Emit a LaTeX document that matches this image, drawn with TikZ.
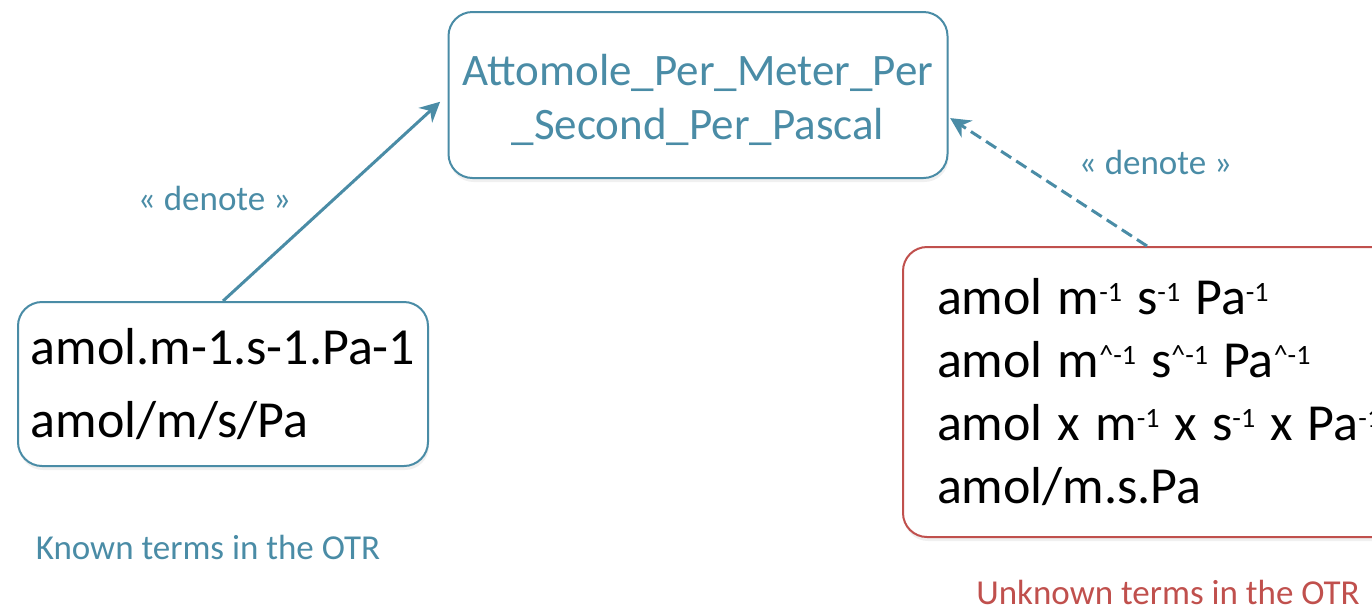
\documentclass[tikz,border=0pt]{standalone}
\usepackage{fontspec}
\setmainfont{Carlito}
\usetikzlibrary{arrows.meta,positioning,shadows}
\definecolor{otrblue}{RGB}{74,140,166}
\definecolor{otrred}{RGB}{192,80,77}
\newcommand\pw[1]{\raisebox{6.5pt}{\fontsize{14}{14}\selectfont #1}}

\begin{document}
\begin{tikzpicture}[main/.style = {draw, rounded corners=12pt, line width=1pt, fill=white, drop shadow={opacity=0.12, shadow xshift=0.5pt, shadow yshift=-2pt}}, tag/.style = {font=\fontsize{17.5}{20}\selectfont}, -{Stealth[length=10pt, width=10pt]}, line width=1.5pt, x=0.5pt, y=-0.5pt]
\clip (0,0) rectangle (1372,612);
\node[main, draw=otrblue, text=otrblue, font=\fontsize{22.5}{27}\selectfont, align=center, minimum width=249.5pt, minimum height=83pt] (1) at (698,95) {\rule{0pt}{21pt}Attomole\_Per\_Meter\_Per\\\_Second\_Per\_Pascal};
\node[main, draw=otrblue, font=\fontsize{26}{36.5}\selectfont, align=left, minimum width=205pt, minimum height=82pt, label={[tag, text=otrblue, label distance=30pt, xshift=-7.5pt]below:Known terms in the OTR}] (2) at (223,384) {amol.m-1.s-1.Pa-1\\amol/m/s/Pa};
\node[main, draw=otrred, font=\fontsize{26}{31.5}\selectfont, align=left, text width=235pt, inner xsep=17pt, minimum height=145pt, label={[tag, text=otrred, label distance=17pt, xshift=-2pt]below:Unknown terms in the OTR}] (3) at (1172,392) {\spaceskip=7.5pt amol m\pw{-1} s\pw{-1} Pa\pw{-1}\\amol m\pw{\textasciicircum-1} s\pw{\textasciicircum-1} Pa\pw{\textasciicircum-1}\\amol x m\pw{-1} x s\pw{-1} x Pa\pw{-1}\\amol/m.s.Pa};

\draw[otrblue, shorten >=5pt] (2.north) -- (1.west) node [midway, left=18pt, tag] {« denote »};
\draw[otrblue, dashed, dash pattern=on 6pt off 3pt, shorten >=1pt] ([xshift=-12.5pt]3.north) -- ([yshift=-11pt]1.east) node [midway, above right=-0.5pt and 11.5pt, tag] {« denote »};

\end{tikzpicture}
\end{document}
